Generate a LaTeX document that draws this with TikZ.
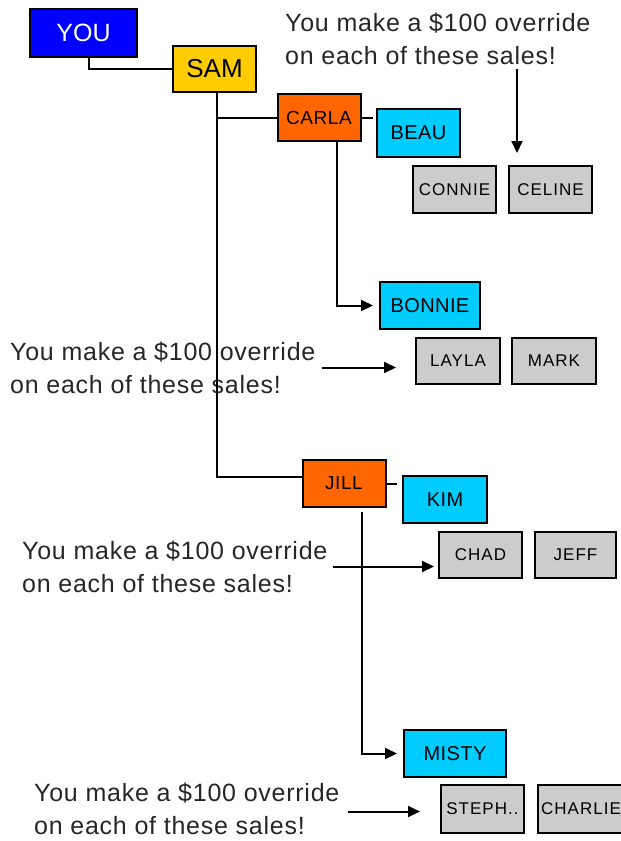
\documentclass[tikz,border=0pt]{standalone}
\usepackage{fontspec}
\setmainfont{Liberation Sans}
\usetikzlibrary{arrows.meta}
\definecolor{youblue}{RGB}{0,0,255}
\definecolor{samyellow}{RGB}{255,204,0}
\definecolor{mgrorange}{RGB}{255,102,0}
\definecolor{leadcyan}{RGB}{0,204,255}
\definecolor{salegray}{RGB}{204,204,204}
\tikzset{
  person/.style={draw=black, line width=2pt, inner sep=0pt,
    minimum width=83pt, minimum height=47pt},
  mgr/.style={person, fill=mgrorange,
    font=\fontsize{19}{21}\selectfont\addfontfeatures{LetterSpace=3}},
  lead/.style={person, fill=leadcyan,
    font=\fontsize{20}{22}\selectfont\addfontfeatures{LetterSpace=2}},
  sale/.style={person, fill=salegray,
    font=\fontsize{17}{19}\selectfont\addfontfeatures{LetterSpace=6}},
  note/.style={align=left, inner sep=0pt, text=black!85,
    font=\fontsize{25}{33}\selectfont\addfontfeatures{LetterSpace=3}},
  conn/.style={line width=2pt},
  tip/.style={conn, -{Triangle[length=12pt,width=11pt]}}
}
\begin{document}
\begin{tikzpicture}[x=1pt, y=-1pt]
  \useasboundingbox (0,0) rectangle (621,841);
  \clip (0,0) rectangle (621,841);
  % the line
  \node[person, fill=youblue, text=white, minimum width=107pt, minimum height=48pt,
    font=\fontsize{25}{27}\selectfont] (you) at (83.5,33) {YOU};
  \node[person, fill=samyellow, minimum height=46pt,
    font=\fontsize{26}{28}\selectfont] (sam) at (214.5,69) {SAM};
  \node[mgr] (carla) at (319,117.5) {CARLA};
  \node[lead, minimum height=48pt] (beau) at (418.5,133) {BEAU};
  \node[sale] (connie) at (454.5,189.5) {CONNIE};
  \node[sale] (celine) at (550.5,189.5) {CELINE};
  \node[lead, minimum width=100pt] (bonnie) at (430,305.5) {BONNIE};
  \node[sale, minimum width=84pt, minimum height=46pt] (layla) at (458,361) {LAYLA};
  \node[sale, minimum width=84pt, minimum height=46pt] (mark) at (554,361) {MARK};
  \node[mgr] (jill) at (344,483.5) {JILL};
  \node[lead, minimum width=84pt] (kim) at (445,499.5) {KIM};
  \node[sale, minimum height=46pt] (chad) at (480.5,555) {CHAD};
  \node[sale, minimum width=81pt, minimum height=46pt] (jeff) at (575.5,555) {JEFF};
  \node[lead, minimum width=102pt] (misty) at (455,753.5) {MISTY};
  \node[sale, minimum height=48pt] (steph) at (482.5,809) {STEPH..};
  \node[sale, minimum width=90pt, minimum height=48pt, anchor=west] (charlie) at (537,809)
    {\hspace*{-4pt}CHARLIE};
  % overrides
  \node[note, anchor=west] (note1) at (285,38.5) {You make a \$100 override\\on each of these sales!};
  \node[note, anchor=west] (note2) at (10,367.5) {You make a \$100 override\\on each of these sales!};
  \node[note, anchor=west] (note3) at (22,566.5) {You make a \$100 override\\on each of these sales!};
  \node[note, anchor=west] (note4) at (34,808.5) {You make a \$100 override\\on each of these sales!};
  \coordinate (from1) at (517,69);
  \coordinate (to1) at (517,153);
  \begin{scope}[conn]
    \draw ([xshift=5.5pt]you.south) |- (sam.west);
    \draw ([xshift=2.5pt]sam.south) |- (carla.west);
    \draw ([xshift=2.5pt]sam.south) |- ([yshift=6.5pt]jill.west);
    \draw (carla.east) -- ([xshift=-3pt]carla.east -| beau.west);
    \draw (jill.east) -- ([xshift=-5pt]jill.east -| kim.west);
    \draw[tip] ([xshift=18pt]carla.south) |- ([xshift=-6pt]bonnie.west);
    \draw[tip] ([xshift=17.5pt,yshift=-4pt]jill.south) |- ([xshift=-6pt]misty.west);
    \draw[tip] (from1) -- (to1);
    \draw[tip] ([xshift=6pt]note2.east) -- ([xshift=-19pt]note2.east -| layla.west);
    \draw[tip] ([xshift=5pt]note3.east) -- ([xshift=-4pt]note3.east -| chad.west);
    \draw[tip] ([xshift=8pt,yshift=-3pt]note4.east) -- ([xshift=-20pt,yshift=-3pt]note4.east -| steph.west);
  \end{scope}
\end{tikzpicture}
\end{document}
